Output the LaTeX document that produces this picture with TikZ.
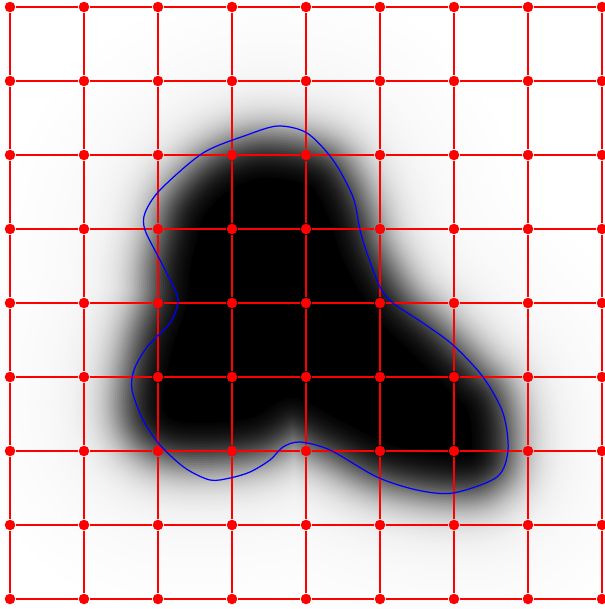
\documentclass[tikz,border=0pt]{standalone}
\usepackage{tikz}
\usetikzlibrary{calc}

% fully black core of the dark region
\def\corepath{plot[smooth cycle, tension=0.6] coordinates {
  (263,178) (305,184) (318,196) (330,222) (345,265) (377,318) (415,356)
  (454,396) (468,412) (472,445) (462,456) (395,446) (340,420) (292,398)
  (250,418) (200,423) (170,418) (163,400) (172,350) (187,305) (190,270)
  (197,240) (205,215) (230,190)}}

\begin{document}
\begin{tikzpicture}[
    x=0.02cm, y=-0.02cm,
    dot/.style={circle, fill=red, inner sep=0pt, minimum size=0.21cm},
    gridline/.style={draw=red, line width=0.9pt},
    contour/.style={draw=blue, line width=0.7pt}
]
    \useasboundingbox (0,0) rectangle (605,609);
    \clip (0,0) rectangle (605,609);

    % Blurred blob: rings around the core, lightest first
    \foreach \k in {100,99,...,1} {
        \pgfmathsetmacro\s{2*\k-1-40}
        \pgfmathsetmacro\e{exp(-abs(\s)/14)}
        \pgfmathsetmacro\g{\s>0 ? \e/(1+\e) : 1/(1+\e)}
        \pgfmathsetmacro\p{min(100,100*\g+4*max(0,min(1,1-\s/160)))}
        \pgfmathsetmacro\w{4*\k*0.02}
        \draw[line width=\w cm, line join=round, draw=black!\p, fill=black!\p] \corepath;
    }
    \fill[black] \corepath;

    % Grid points
    \foreach \i in {0,...,8}
        \foreach \j in {0,...,8}
            \node[dot] (n-\i-\j) at ({10+74*\i},{7+74*\j}) {};

    % Grid lines
    \foreach \i in {0,...,7} {
        \pgfmathtruncatemacro\ii{\i+1}
        \foreach \j in {0,...,8} {
            \draw[gridline] (n-\i-\j) -- (n-\ii-\j);
            \draw[gridline] (n-\j-\i) -- (n-\j-\ii);
        }
    }

    % Contour
    \draw[contour] plot[smooth cycle] coordinates {
        (278,126) (307,133) (333,160) (353,197) (360,230) (367,253) (380,287)
        (393,303) (423,323) (453,345) (483,377) (503,413) (508,450) (497,477)
        (453,493) (417,490) (377,477) (330,450) (300,442) (283,447) (270,460)
        (250,472) (230,478) (210,480) (185,468) (160,445) (143,420) (132,390)
        (134,370) (147,347) (170,323) (178,303) (175,290) (160,260) (145,230)
        (145,213) (160,190) (203,153) (247,135)};
\end{tikzpicture}
\end{document}
